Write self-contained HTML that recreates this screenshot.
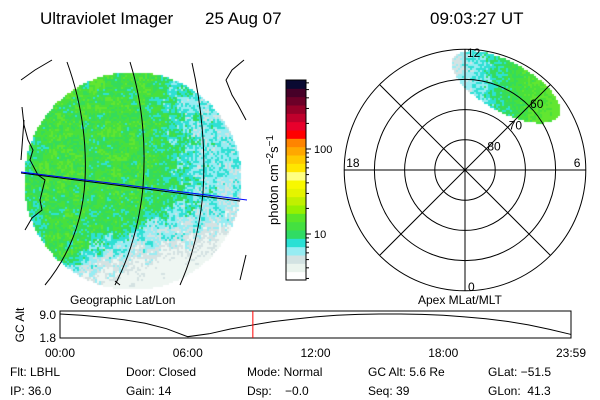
<!DOCTYPE html>
<html><head><meta charset="utf-8"><style>
body{margin:0;background:#fff;width:600px;height:400px;overflow:hidden;font-family:"Liberation Sans",sans-serif}
#wrap{position:relative;width:600px;height:400px}
canvas,svg{position:absolute;left:0;top:0}
</style></head><body><div id="wrap">
<canvas id="cv" width="600" height="400"></canvas>
<svg id="sv" width="600" height="400" font-family="Liberation Sans, sans-serif"></svg>
</div>
<script>
// ---- data ----
const altHours = [0,1,2,3,4,5,6,7,8,9,10,11,12,13,14,15,16,17,18,19,20,21,22,23,24];
const altValues = [9.0,8.6,8.0,7.2,6.1,4.4,1.9,2.8,4.3,5.5,6.6,7.4,8.1,8.6,8.9,9.0,9.0,8.9,8.6,8.1,7.5,6.7,5.6,4.2,2.6];
const altTicks = [9.0,1.8];
const timeTicks = ["00:00","06:00","12:00","18:00","23:59"];
const timeTickHours = [0,6,12,18,24];
const currentHour = 9.0575;
const cbTickVals = [10,100];
const cbColors = ["#ffffff","#eaf4ee","#d2e2e2","#96ecf2","#2ae0d4","#30dc64","#44e040","#5ae628","#96f000","#c0f000","#e4f400","#f8f800","#ffff82","#ffe600","#ffca00","#ffa800","#ff8400","#ff0000","#e8002c","#c0002c","#960028","#6c0028","#460028","#0a0a32"];
const polarRings = [80,70,60,50];
const polarRingLabels = ["80","70","60"];

const NS="http://www.w3.org/2000/svg";
const sv=document.getElementById('sv');
function el(t,a,p){const e=document.createElementNS(NS,t);for(const k in a)e.setAttribute(k,a[k]);(p||sv).appendChild(e);return e;}
function txt(x,y,s,size,anchor,name,extra){const e=el('text',Object.assign({x:x,y:y,'font-size':size,'text-anchor':anchor||'start',fill:'#000'},extra||{}));e.textContent=s;return e;}

// ---- texture ----
const cv=document.getElementById('cv'),cx=cv.getContext('2d');
let seed=7;function rnd(){seed=(seed*16807)%2147483647;return seed/2147483647;}
const pal=["#eef6f2","#d4e2e2","#98ecf2","#2ee0d4","#34dc5c","#48e03c","#62e630"];
function pick(v){v=Math.max(0,Math.min(6,Math.round(v)));return pal[v];}
function sig(t){return 1/(1+Math.exp(-t));}
const DX=132,DY=180,DR=109;
const coarse={};function cn(i,j){const k=i+','+j;if(!(k in coarse))coarse[k]=rnd()-0.5;return coarse[k];}
for(let y=DY-DR;y<DY+DR;y+=2)for(let x=DX-DR;x<DX+DR;x+=2){
  const dx=x-DX,dy=y-DY;if(dx*dx+dy*dy>DR*DR)continue;
  const edge = (y<200) ? 165 : 165-(y-200)*1.5;
  const g=sig((edge-x)/10);
  let low = 3.1 - Math.max(0,x-edge)*0.018 - Math.max(0,y-215)*0.03;
  let v = low*(1-g) + 4.75*g;
  if(x<45) v-=0.5*g;
  if(y>195 && x<edge) v-=0.3*g;
  v += cn(x>>3,y>>3)*1.6 + (rnd()-0.5)*1.9;
  cx.fillStyle=pick(v);cx.fillRect(x,y,2,2);
}
// polar oval
const PX=465,PY=170,PR=121;
for(let y=44;y<130;y+=2)for(let x=440;x<620;x+=2){
  const ddx=x-PX,ddy=y-PY;if(ddx*ddx+ddy*ddy>PR*PR)continue;
  const a=-0.5,ux=(x-505)*Math.cos(a)-(y-86)*Math.sin(a),uy=(x-505)*Math.sin(a)+(y-86)*Math.cos(a);
  if((ux*ux)/(60*60)+(uy*uy)/(25*25)>1)continue;
  let v=1.3+ (x-452)*0.05+(rnd()-0.5)*1.8;
  cx.fillStyle=pick(v);cx.fillRect(x,y,2,2);
}

// ---- title ----
txt(40,24,"Ultraviolet Imager",17,'start','title');
txt(205,24,"25 Aug 07",17,'start','date-label');
txt(430,24,"09:03:27 UT",17,'start','time-label');

// ---- geographic map lines ----
const g=el('g',{fill:'none',stroke:'#000','stroke-width':1});

["M67,62 Q88,120 85,180 Q82,240 45,285","M130,62 Q148,120 143,187 Q138,240 115,285","M192,63 Q207,130 203,193 Q198,245 180,285"].forEach((d,i)=>{const p=el('path',{d:d},g);});
const coast=[ "M21,80 L35,70 L52,60","M22,107 L24,125 L28,140 L33,150 L30,160 L38,175 L45,180 L40,200 L42,210 L32,218 L25,230","M24,120 L21,160","M244,60 L232,70 L226,80 L232,95 L238,105 L246,120","M246,255 L240,280","M115,281 L120,285"];
coast.forEach((d,i)=>{const p=el('path',{d:d},g);});
const kl=el('line',{x1:21,y1:173,x2:240,y2:201,stroke:'#000','stroke-width':1});
const bl=el('line',{x1:21,y1:172,x2:247,y2:200,stroke:'#0000ff','stroke-width':1});

// ---- colorbar ----
const CB={x:286,y:80,w:20,h:200};
const bandH=CB.h/cbColors.length;
cbColors.forEach((c,i)=>{const r=el('rect',{x:CB.x,y:CB.y+CB.h-(i+1)*bandH,width:CB.w,height:bandH+0.5,fill:c});});
const cbf=el('rect',{x:CB.x,y:CB.y,width:CB.w,height:CB.h,fill:'none',stroke:'#000'});
function cbY(v){return 234-(Math.log10(v)-1)*85;}
for(let d=0;d<3;d++)for(let m=1;m<10;m++){const v=Math.pow(10,d)*m;const y=cbY(v);if(y<CB.y||y>CB.y+CB.h)continue;const L=m==1?5:3;const t=el('line',{x1:CB.x+CB.w,y1:y,x2:CB.x+CB.w+L,y2:y,stroke:'#000'});}
cbTickVals.forEach(v=>txt(CB.x+CB.w+8,cbY(v)+4,String(v),11,'start','colorbar-label-'+v));
const ct=txt(0,0,"",13,'middle','colorbar-title',{transform:'translate(278,180) rotate(-90)'});
ct.innerHTML='photon cm<tspan dy="-5" font-size="10">−2</tspan><tspan dy="5">s</tspan><tspan dy="-5" font-size="10">−1</tspan>';

// ---- polar plot ----
const pg=el('g',{fill:'none',stroke:'#000'});
function rOf(lat){return (90-lat)*3.02;}
polarRings.forEach(l=>{const c=el('circle',{cx:PX,cy:PY,r:rOf(l)},pg);});
for(let k=0;k<4;k++){const a=k*Math.PI/4;const R=rOf(50);const ln=el('line',{x1:PX-R*Math.cos(a),y1:PY-R*Math.sin(a),x2:PX+R*Math.cos(a),y2:PY+R*Math.sin(a)},pg);}
polarRingLabels.forEach((s,i)=>{const r=rOf(polarRings[i]);txt(PX+r*0.707+1,PY-r*0.707+2,s,12,'start','ring-label-'+s);});
txt(PX+2,PY-rOf(50)+8,"12",12,'start','mlt-12');
txt(PX+rOf(50)-12,PY-3,"6",12,'start','mlt-6');
txt(PX+3,PY+rOf(50),"0",12,'start','mlt-0');
txt(PX-rOf(50)+2,PY-3,"18",12,'start','mlt-18');

// ---- timeline ----
txt(70,304,"Geographic Lat/Lon",12,'start','map-label-left');
txt(418,304,"Apex MLat/MLT",12,'start','map-label-right');
const T={x0:60,x1:571,y0:311,y1:338};
function tx(h){return T.x0+(T.x1-T.x0)*h/24;}
function ty(v){return 337-(v-1.8)/(9.0-1.8)*(337-314);}
const frame=el('rect',{x:T.x0,y:T.y0,width:T.x1-T.x0,height:T.y1-T.y0,fill:'none',stroke:'#000'});
const curve=el('polyline',{points:altHours.map((h,i)=>tx(h)+','+ty(altValues[i])).join(' '),fill:'none',stroke:'#000'});
const rl=el('line',{x1:tx(currentHour),y1:T.y0,x2:tx(currentHour),y2:T.y1,stroke:'#ff0000'});
altTicks.forEach(v=>txt(56,ty(v)+5,v.toFixed(1),12,'end','alt-tick-'+v));
txt(0,0,"GC Alt",12,'middle','alt-axis-title',{transform:'translate(24,325) rotate(-90)'});
timeTicks.forEach((s,i)=>txt(tx(timeTickHours[i]),357,s,12,'middle','time-tick-'+i));

// ---- info ----
const info=[["Flt: LBHL",10,376],["Door: Closed",126,376],["Mode: Normal",247,376],["GC Alt: 5.6 Re",368,376],["GLat: −51.5",488,376],["IP: 36.0",10,395],["Gain: 14",126,395],["Dsp:    −0.0",247,395],["Seq: 39",368,395],["GLon:  41.3",488,395]];
info.forEach((a,i)=>{const t=txt(a[1],a[2],a[0],12,'start','info-'+i);t.style.whiteSpace='pre';});
</script></body></html>
